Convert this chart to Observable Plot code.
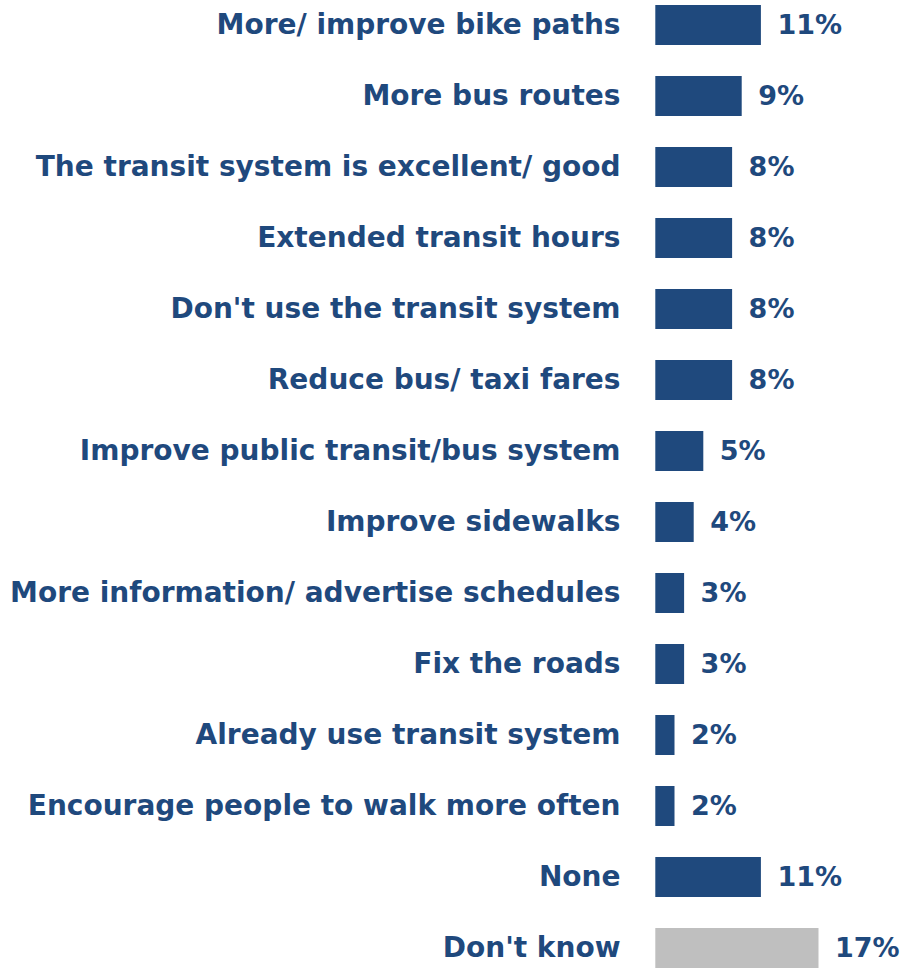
<!DOCTYPE html>
<html>
<head>
<meta charset="utf-8">
<script src="https://cdn.jsdelivr.net/npm/d3@7"></script>
<script src="https://cdn.jsdelivr.net/npm/@observablehq/plot@0.6"></script>
<style>
  html, body { margin: 0; padding: 0; background: #fff; }
  #chart svg { display: block; }
</style>
</head>
<body>
<div id="chart"></div>
<script>
const categories = [
  "More/ improve bike paths",
  "More bus routes",
  "The transit system is excellent/ good",
  "Extended transit hours",
  "Don't use the transit system",
  "Reduce bus/ taxi fares",
  "Improve public transit/bus system",
  "Improve sidewalks",
  "More information/ advertise schedules",
  "Fix the roads",
  "Already use transit system",
  "Encourage people to walk more often",
  "None",
  "Don't know"
];
const values = [11, 9, 8, 8, 8, 8, 5, 4, 3, 3, 2, 2, 11, 17];
const groups = ["main","main","main","main","main","main","main","main","main","main","main","main","main","dk"];

const data = categories.map((c, i) => ({category: c, value: values[i], group: groups[i]}));

const blue = "#1F497D";
const font = "'DejaVu Sans', Verdana, sans-serif";

const chart = Plot.plot({
  width: 901,
  height: 970,
  marginLeft: 655,
  marginRight: 1,
  marginTop: 0,
  marginBottom: 0,
  style: {fontFamily: font, background: "#fff", overflow: "visible"},
  x: {domain: [0, 25.5], range: [655.3, 900.1], axis: null},
  y: {domain: categories, range: [4.7, 972.2], paddingInner: 0.43, paddingOuter: 0, align: 0, label: null},
  color: {domain: ["main", "dk"], range: [blue, "#BFBFBF"]},
  marks: [
    Plot.barX(data, {x: "value", y: "category", fill: "group"}),
    Plot.axisY({
      tickSize: 0,
      tickPadding: 35,
      fontSize: 28,
      fontWeight: "bold",
      fill: blue,
      label: null
    }),
    Plot.text(data, {
      x: "value",
      y: "category",
      text: d => `${d.value}%`,
      dx: 16,
      textAnchor: "start",
      fontSize: 27,
      fontWeight: "bold",
      fill: blue
    })
  ]
});

document.getElementById("chart").appendChild(chart);
</script>
</body>
</html>
